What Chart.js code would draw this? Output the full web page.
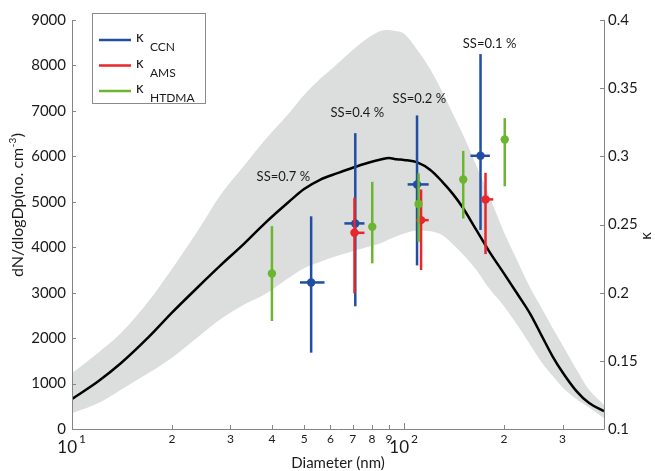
<!DOCTYPE html>
<html><head><meta charset="utf-8">
<script src="https://cdn.jsdelivr.net/npm/chart.js@4.4.1/dist/chart.umd.min.js"></script>
<style>html,body{margin:0;padding:0;background:#fff}#wrap{width:655px;height:471px;position:relative}</style>
</head><body><div id="wrap"><canvas id="c"></canvas></div>
<script>
// ---- size distribution (dN/dlogDp) ----
const diameters = [10,12,14,17,20,24,28,33,38,45,50,56,63,70,78,85,90,95,100,110,120,130,140,150,165,180,200,220,240,260,280,300,330,360,400];
const meanDist  = [660,1050,1440,2020,2560,3130,3600,4080,4520,5000,5280,5490,5630,5750,5860,5930,5965,5935,5920,5860,5700,5450,5180,4880,4380,3920,3420,2960,2530,2045,1600,1250,840,575,390];
const upperDist = [1230,1680,2100,2810,3520,4380,5150,5800,6350,6950,7350,7710,8040,8340,8610,8760,8780,8750,8700,8330,7910,7440,6950,6500,5800,5150,4330,3680,3100,2650,2220,1850,1320,870,530];
const lowerDist = [345,570,860,1230,1570,2030,2415,2740,2960,3330,3540,3680,3810,3910,4010,4090,4170,4240,4300,4370,4350,4270,4070,3850,3500,3100,2700,2270,1850,1460,1170,920,660,480,240];

// ---- kappa CCN ----
const ccnD   = [52.5, 71.3, 109.4, 169.9];
const ccnK   = [0.2075, 0.2508, 0.2794, 0.3004];
const ccnKLo = [0.156, 0.190, 0.220, 0.246];
const ccnKHi = [0.256, 0.317, 0.330, 0.375];
const ccnDLo = [48.6, 66.1, 102.5, 158.5];
const ccnDHi = [57.6, 76.0, 118.6, 181.3];
// ---- kappa AMS ----
const amsD   = [70.9, 112.5, 175.9];
const amsK   = [0.2439, 0.2532, 0.2684];
const amsKLo = [0.1995, 0.2166, 0.2283];
const amsKHi = [0.2696, 0.2757, 0.2879];
const amsDLo = [69.7, 108.7, 172.0];
const amsDHi = [76.0, 118.6, 185.6];
// ---- kappa HTDMA ----
const htdmaD   = [40.0, 80.2, 110.6, 150.7, 201];
const htdmaK   = [0.2141, 0.2483, 0.2650, 0.2830, 0.3124];
const htdmaKLo = [0.1792, 0.2215, 0.2373, 0.2544, 0.2780];
const htdmaKHi = [0.2488, 0.2813, 0.2874, 0.3040, 0.3280];

// ---- supersaturation labels ----
const ssLabels = ['SS=0.7 %', 'SS=0.4 %', 'SS=0.2 %', 'SS=0.1 %'];
const ssLabelD = [43.3, 72.3, 111.2, 180.9];
const ssLabelK = [0.2847, 0.3317, 0.342, 0.3822];

// ---- ticks ----
const xTickValues = [10,20,30,40,50,60,70,80,90,100,200,300];
const yTickStep = 1000;
const y2TickStep = 0.05;

const COL = {blue:'#1f4ea3', red:'#e8262b', green:'#6bb52f', band:'#dcdddd', axis:'#858585', text:'#1a1a1a'};
const FONT = 'Lato, "Open Sans", "Liberation Sans", sans-serif';

const pts = (xs, ys) => xs.map((x,i)=>({x, y: ys[i]}));
const errs = (xs, ys, lo, hi, xlo, xhi) => xs.map((x,i)=>({x, y: ys[i], lo: lo[i], hi: hi[i], xlo: xlo ? xlo[i] : null, xhi: xhi ? xhi[i] : null}));

const errPlugin = {
  id: 'errbars',
  beforeDatasetDraw(chart, args) {
    const ds = chart.data.datasets[args.index];
    if (!ds.err) return;
    const ctx = chart.ctx, xs = chart.scales.x, ys = chart.scales.y2;
    ctx.save();
    ctx.strokeStyle = ds.borderColor; ctx.lineWidth = 2.5; ctx.lineCap = 'butt';
    ds.err.forEach(e => {
      const px = xs.getPixelForValue(e.x), py = ys.getPixelForValue(e.y);
      ctx.beginPath(); ctx.moveTo(px, ys.getPixelForValue(e.lo)); ctx.lineTo(px, ys.getPixelForValue(e.hi)); ctx.stroke();
      if (e.xlo != null) {
        ctx.beginPath(); ctx.moveTo(xs.getPixelForValue(e.xlo), py); ctx.lineTo(xs.getPixelForValue(e.xhi), py); ctx.stroke();
      }
    });
    ctx.restore();
  }
};

const decoPlugin = {
  id: 'deco',
  afterDraw(chart) {
    const ctx = chart.ctx, a = chart.chartArea;
    const xs = chart.scales.x, ys = chart.scales.y, y2 = chart.scales.y2;
    ctx.save();
    // axis lines
    ctx.strokeStyle = COL.axis; ctx.lineWidth = 1;
    ctx.beginPath();
    ctx.moveTo(a.left + 0.5, a.top); ctx.lineTo(a.left + 0.5, a.bottom + 0.5);
    ctx.lineTo(a.right + 0.5, a.bottom + 0.5); ctx.lineTo(a.right + 0.5, a.top);
    ctx.stroke();
    // inward ticks
    ctx.beginPath();
    ys.ticks.forEach(t => { const p = Math.round(ys.getPixelForValue(t.value)) + 0.5; ctx.moveTo(a.left, p); ctx.lineTo(a.left + 4, p); });
    y2.ticks.forEach(t => { const p = Math.round(y2.getPixelForValue(t.value)) + 0.5; ctx.moveTo(a.right, p); ctx.lineTo(a.right - 4, p); });
    xs.ticks.forEach(t => {
      const p = Math.round(xs.getPixelForValue(t.value)) + 0.5;
      const major = Math.abs(Math.log10(t.value) % 1) < 1e-9;
      ctx.moveTo(p, a.bottom); ctx.lineTo(p, a.bottom - (major ? 6 : 4));
    });
    ctx.stroke();
    // 10^n labels
    ctx.fillStyle = COL.text;
    [10, 100].forEach(v => {
      const p = xs.getPixelForValue(v);
      ctx.font = '17px ' + FONT; ctx.textAlign = 'right'; ctx.textBaseline = 'alphabetic';
      ctx.fillText('10', p + 5, 453);
      ctx.font = '12px ' + FONT; ctx.textAlign = 'left';
      ctx.fillText(String(Math.round(Math.log10(v))), p + 7, 443);
    });
    // x title
    ctx.font = '15px ' + FONT; ctx.textAlign = 'center'; ctx.textBaseline = 'middle';
    ctx.fillText('Diameter (nm)', 338, 463);
    // right title
    ctx.save(); ctx.translate(646, 236); ctx.rotate(-Math.PI / 2);
    ctx.font = '15px ' + FONT; ctx.fillText('\u03BA', 0, 0); ctx.restore();
    // left title with superscript
    ctx.save(); ctx.translate(18, 205); ctx.rotate(-Math.PI / 2);
    const main = 'dN/dlogDp(no. cm', sup = '-3', end = ')';
    ctx.font = '16px ' + FONT; const w1 = ctx.measureText(main).width, w3 = ctx.measureText(end).width;
    ctx.font = '10px ' + FONT; const w2 = ctx.measureText(sup).width;
    const tot = w1 + w2 + w3 + 1; let x0 = -tot / 2;
    ctx.textAlign = 'left'; ctx.textBaseline = 'alphabetic';
    ctx.font = '16px ' + FONT; ctx.fillText(main, x0, 5);
    ctx.font = '10px ' + FONT; ctx.fillText(sup, x0 + w1 + 0.5, -2);
    ctx.font = '16px ' + FONT; ctx.fillText(end, x0 + w1 + w2 + 1, 5);
    ctx.restore();
    // SS labels
    ctx.font = '13px ' + FONT; ctx.textAlign = 'center'; ctx.textBaseline = 'middle'; ctx.fillStyle = COL.text;
    ssLabels.forEach((s, i) => ctx.fillText(s, xs.getPixelForValue(ssLabelD[i]), y2.getPixelForValue(ssLabelK[i])));
    // legend
    const lx = 92.5, ly = 13.5, lw = 113, lh = 90;
    ctx.fillStyle = '#fff'; ctx.fillRect(lx, ly, lw, lh);
    ctx.strokeStyle = '#8a8a8a'; ctx.lineWidth = 1; ctx.strokeRect(lx, ly, lw, lh);
    const items = [['CCN', COL.blue], ['AMS', COL.red], ['HTDMA', COL.green]];
    items.forEach((it, i) => {
      const yy = 40 + i * 25.5;
      ctx.strokeStyle = it[1]; ctx.lineWidth = 2.5;
      ctx.beginPath(); ctx.moveTo(99, yy); ctx.lineTo(131, yy); ctx.stroke();
      ctx.fillStyle = COL.text; ctx.textAlign = 'left'; ctx.textBaseline = 'alphabetic';
      ctx.font = '15px ' + FONT; ctx.fillText('\u03BA', 136, yy + 2);
      ctx.font = '12px ' + FONT; ctx.fillText(it[0], 150, yy + 11);
    });
    ctx.restore();
  }
};

const lineCommon = {type: 'line', yAxisID: 'y', pointRadius: 0, cubicInterpolationMode: 'monotone'};
new Chart(document.getElementById('c'), {
  data: {
    datasets: [
      Object.assign({label: 'upper', data: pts(diameters, upperDist), borderWidth: 0, fill: '+1', backgroundColor: COL.band, borderColor: COL.band, order: 6}, lineCommon),
      Object.assign({label: 'lower', data: pts(diameters, lowerDist), borderWidth: 0, fill: false, borderColor: COL.band, order: 5}, lineCommon),
      Object.assign({label: 'mean', data: pts(diameters, meanDist), borderWidth: 2.5, fill: false, borderColor: '#000', order: 4}, lineCommon),
      {type: 'scatter', label: 'CCN', data: pts(ccnD, ccnK), yAxisID: 'y2', pointRadius: 4.2, pointBorderWidth: 0, backgroundColor: COL.blue, borderColor: COL.blue, order: 3, err: errs(ccnD, ccnK, ccnKLo, ccnKHi, ccnDLo, ccnDHi)},
      {type: 'scatter', label: 'AMS', data: pts(amsD, amsK), yAxisID: 'y2', pointRadius: 4.2, pointBorderWidth: 0, backgroundColor: COL.red, borderColor: COL.red, order: 2, err: errs(amsD, amsK, amsKLo, amsKHi, amsDLo, amsDHi)},
      {type: 'scatter', label: 'HTDMA', data: pts(htdmaD, htdmaK), yAxisID: 'y2', pointRadius: 4.2, pointBorderWidth: 0, backgroundColor: COL.green, borderColor: COL.green, order: 1, err: errs(htdmaD, htdmaK, htdmaKLo, htdmaKHi)}
    ]
  },
  options: {
    responsive: true, maintainAspectRatio: false, animation: false,
    layout: {padding: {top: 20, left: 0, right: 0, bottom: 0}},
    plugins: {legend: {display: false}, tooltip: {enabled: false}},
    scales: {
      x: {
        type: 'logarithmic', position: 'bottom', min: 10, max: 400,
        afterBuildTicks: s => { s.ticks = xTickValues.map(v => ({value: v})); },
        afterFit: s => { s.height = 42; },
        grid: {display: false, drawTicks: false}, border: {display: false},
        ticks: {autoSkip: false, maxRotation: 0, padding: 3, color: COL.text, font: {size: 12, family: FONT},
          callback: v => { const l = Math.log10(v); return Math.abs(l - Math.round(l)) < 1e-9 ? '' : String(Math.round(v / Math.pow(10, Math.floor(l)))); }}
      },
      y: {
        type: 'linear', position: 'left', min: 0, max: 9000,
        afterFit: s => { s.width = 72; },
        grid: {display: false, drawTicks: false}, border: {display: false},
        ticks: {stepSize: yTickStep, padding: 6, color: COL.text, font: {size: 15, family: FONT}, callback: v => String(v)}
      },
      y2: {
        type: 'linear', position: 'right', min: 0.1, max: 0.4,
        afterFit: s => { s.width = 51; },
        grid: {display: false, drawTicks: false}, border: {display: false},
        ticks: {stepSize: y2TickStep, padding: 4, color: COL.text, font: {size: 15, family: FONT},
          callback: v => String(Math.round(v * 100) / 100)}
      }
    }
  },
  plugins: [errPlugin, decoPlugin]
});
</script>
</body></html>
